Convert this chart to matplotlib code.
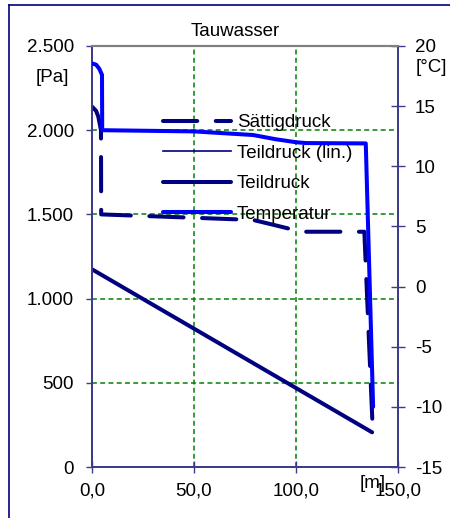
import matplotlib
matplotlib.use("Agg")
import matplotlib.pyplot as plt
from matplotlib.lines import Line2D

plt.rcParams['font.family'] = ['Liberation Sans', 'DejaVu Sans']

# Layer positions [m] and profiles
temp_x = [0.0, 2.0, 3.6, 4.9, 5.0, 50.0, 79.0, 90.0, 100.0, 105.0, 134.2, 137.8]
temp_c = [18.55, 18.45, 18.1, 17.6, 13.0, 12.9, 12.6, 12.25, 12.0, 11.93, 11.9, -10.0]

sat_x = [0.0, 2.0, 3.1, 4.4, 4.5, 50.0, 79.0, 90.0, 100.0, 103.0, 133.5, 137.5]
sat_pa = [2140, 2115, 2080, 2000, 1500, 1480, 1467, 1435, 1405, 1397, 1397, 255]

part_x = [0.0, 137.3]
part_pa = [1174, 206]

x_ticks = [0, 50, 100, 150]
x_labels = ["0,0", "50,0", "100,0", "150,0"]
pa_ticks = [0, 500, 1000, 1500, 2000, 2500]
pa_labels = ["0", "500", "1.000", "1.500", "2.000", "2.500"]
c_ticks = [-15, -10, -5, 0, 5, 10, 15, 20]
c_labels = ["-15", "-10", "-5", "0", "5", "10", "15", "20"]

W, H = 450, 518
fig = plt.figure(figsize=(W / 100, H / 100), dpi=100)
fig.patch.set_facecolor("white")

ax = fig.add_axes([92 / W, 1 - 467 / H, (398 - 92) / W, (467 - 46) / H])
ax2 = ax.twinx()

navy = "#000080"
spine_c = "#3c3c88"
grid_c = "#008000"
fs = 13.5

ax.set_xlim(0, 150)
ax.set_ylim(0, 2500)
ax2.set_ylim(-15, 20)

# grid
for yv in pa_ticks:
    ax.axhline(yv, color=grid_c, lw=1.1, ls=(0, (3.2, 2.2)), zorder=1)
for xv in [50, 100]:
    ax.axvline(xv, color=grid_c, lw=1.1, ls=(0, (3.2, 2.2)), zorder=1)

l_sat, = ax.plot(sat_x, sat_pa, color=navy, lw=2.9, ls=(0, (8.5, 4.6)),
                 dash_capstyle="round", solid_joinstyle="round", zorder=3,
                 label="Sättigdruck")
l_lin, = ax.plot(part_x, part_pa, color=navy, lw=1.2, zorder=3,
                 label="Teildruck (lin.)")
l_part, = ax.plot(part_x, part_pa, color=navy, lw=2.9, solid_capstyle="round",
                  zorder=3, label="Teildruck")
l_temp, = ax2.plot(temp_x, temp_c, color="#0000FF", lw=2.9,
                   solid_joinstyle="round", solid_capstyle="round", zorder=3,
                   label="Temperatur")

# spines
for a in (ax, ax2):
    for s in ("left", "right", "bottom"):
        a.spines[s].set_color(spine_c)
        a.spines[s].set_linewidth(1.3)
    a.spines["top"].set_color("#808080")
    a.spines["top"].set_linewidth(1.5)

ax.set_xticks(x_ticks)
ax.set_xticklabels(x_labels)
ax.set_yticks(pa_ticks)
ax.set_yticklabels(pa_labels)
ax2.set_yticks(c_ticks)
ax2.set_yticklabels(c_labels)

ax.tick_params(axis="y", direction="out", length=4.5, width=1.0, color=spine_c,
               pad=8.5, labelsize=fs)
ax.tick_params(axis="x", direction="inout", length=8, width=1.0, color=spine_c,
               pad=7, labelsize=fs)
ax2.tick_params(axis="y", direction="inout", length=9.5, width=1.0, color=spine_c,
                pad=7.5, labelsize=fs)

# unit labels and title
fig.text(52 / W, 1 - 77 / H, "[Pa]", ha="center", va="center", fontsize=fs)
fig.text(431 / W, 1 - 68 / H, "[°C]", ha="center", va="center", fontsize=fs)
fig.text(373 / W, 1 - 484 / H, "[m]", ha="center", va="center", fontsize=fs)
fig.text(235 / W, 1 - 32 / H, "Tauwasser", ha="center", va="center", fontsize=fs)

leg = ax2.legend(handles=[l_sat, l_lin, l_part, l_temp], loc="upper left",
                 bbox_to_anchor=(163 / W, 1 - 114 / H),
                 bbox_transform=fig.transFigure, frameon=False, fontsize=fs,
                 handlelength=3.6, handletextpad=0.35, labelspacing=0.72,
                 borderpad=0, borderaxespad=0)
leg.set_zorder(5)

# outer chart frame
fig.add_artist(Line2D([9 / W, 9 / W], [0, 1 - 5 / H], color=navy, lw=1.2,
                      transform=fig.transFigure))
fig.add_artist(Line2D([9 / W, 1], [1 - 5 / H, 1 - 5 / H], color=navy, lw=1.2,
                      transform=fig.transFigure))

fig.savefig("out.png", dpi=100)
